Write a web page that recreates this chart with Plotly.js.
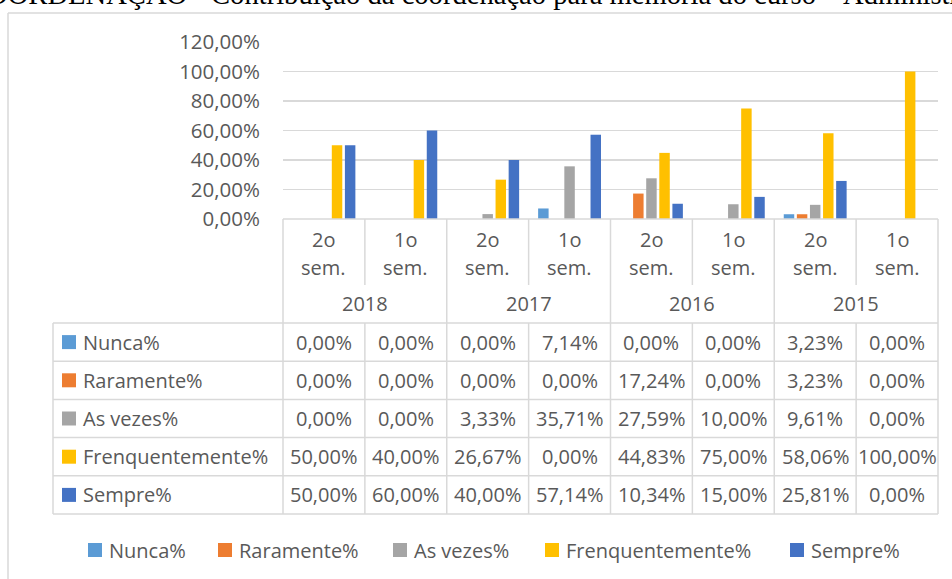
<!DOCTYPE html>
<html>
<head>
<meta charset="utf-8">
<script src="https://cdn.plot.ly/plotly-3.0.1.min.js"></script>
<style>html,body{margin:0;padding:0;background:#fff;overflow:hidden}#chart{width:952px;height:579px}</style>
</head>
<body>
<div id="chart"></div>
<script>
// ---- data ----
const titleText = 'COORDENAÇÃO - Contribuição da coordenação para memória do curso – Administração';
const years = ['2018', '2017', '2016', '2015'];
const semesters = ['2o sem.', '1o sem.', '2o sem.', '1o sem.', '2o sem.', '1o sem.', '2o sem.', '1o sem.'];
const seriesNames = ['Nunca%', 'Raramente%', 'As vezes%', 'Frenquentemente%', 'Sempre%'];
const nunca = [0.00, 0.00, 0.00, 7.14, 0.00, 0.00, 3.23, 0.00];
const raramente = [0.00, 0.00, 0.00, 0.00, 17.24, 0.00, 3.23, 0.00];
const asVezes = [0.00, 0.00, 3.33, 35.71, 27.59, 10.00, 9.61, 0.00];
const frequentemente = [50.00, 40.00, 26.67, 0.00, 44.83, 75.00, 58.06, 100.00];
const sempre = [50.00, 60.00, 40.00, 57.14, 10.34, 15.00, 25.81, 0.00];
const colors = ['#5B9BD5', '#ED7D31', '#A5A5A5', '#FFC000', '#4472C4'];

// ---- layout helpers (pixel geometry of the page) ----
const W = 952, H = 579;
const L = 283, R = 938, T = 42, B = 219;
const fx = px => (px - L) / (R - L);
const fy = py => (B - py) / (B - T);
const grid = '#d9d9d9';
const txt = '#595959';
const FONT = 'Open Sans, sans-serif';
const FS = 20;

const series = [nunca, raramente, asVezes, frequentemente, sempre];
const cats = semesters.map((s, i) => years[Math.floor(i / 2)] + ' ' + s);

const traces = series.map((vals, k) => ({
  type: 'bar',
  name: seriesNames[k],
  x: cats,
  y: vals,
  marker: {color: colors[k], line: {width: 0}},
  showlegend: false,
  hoverinfo: 'skip'
}));

const shapes = [];
const annotations = [];
function hline(x0, x1, py, w) {
  shapes.push({type: 'line', xref: 'paper', yref: 'paper', x0: x0, x1: x1, y0: fy(py), y1: fy(py),
    line: {color: grid, width: w || 1.5}});
}
function vline(xp, py0, py1, w) {
  shapes.push({type: 'line', xref: 'paper', yref: 'paper', x0: xp, x1: xp, y0: fy(py0), y1: fy(py1),
    line: {color: grid, width: w || 1.5}});
}
function label(text, x, xref, py, xanchor, size) {
  annotations.push({text: text, x: x, xref: xref, y: fy(py), yref: 'paper', xanchor: xanchor || 'center',
    yanchor: 'middle', showarrow: false, font: {family: FONT, size: size || FS, color: txt}});
}

// chart outer border
vline(fx(8), 13, H + 5);
hline(fx(8), fx(W + 5), 13);

// category header
const nCat = cats.length;
const headTop = B, semBottom = 285, headBottom = 323;
hline(0, 1, headTop);
for (let k = 0; k <= nCat; k++) {
  const xp = k / nCat;
  if (k % 2 === 0) vline(xp, headTop, headBottom);
  else vline(xp, headTop, semBottom);
}
cats.forEach((c, i) => {
  const parts = semesters[i].split(' ');
  label(parts[0], c, 'x', 239);
  label(parts[1], c, 'x', 267);
});
years.forEach((y, j) => {
  label(y, (2 * j + 1) / nCat, 'paper', 303);
});

// data table
const tLeft = fx(53), rowH = 38.2;
const tTop = headBottom;
for (let r = 0; r <= series.length; r++) hline(tLeft, 1, tTop + r * rowH);
const tBottom = tTop + series.length * rowH;
vline(tLeft, tTop, tBottom);
for (let k = 0; k <= nCat; k++) vline(k / nCat, tTop, tBottom);
const fmt = v => v.toFixed(2).replace('.', ',') + '%';
series.forEach((vals, r) => {
  const cy = tTop + rowH * (r + 0.5);
  shapes.push({type: 'rect', xref: 'paper', yref: 'paper', x0: fx(62), x1: fx(76), y0: fy(cy - 7), y1: fy(cy + 7),
    fillcolor: colors[r], line: {width: 0}});
  label(seriesNames[r], fx(81), 'paper', cy, 'left');
  vals.forEach((v, i) => label(fmt(v), cats[i], 'x', cy));
});

// legend
const legX = [88, 218, 393, 545, 790];
const legY = 550;
seriesNames.forEach((n, k) => {
  shapes.push({type: 'rect', xref: 'paper', yref: 'paper', x0: fx(legX[k]), x1: fx(legX[k] + 14),
    y0: fy(legY - 7), y1: fy(legY + 7), fillcolor: colors[k], line: {width: 0}});
  label(n, fx(legX[k] + 19), 'paper', legY, 'left');
});

// title (cut at top of the picture as in the reference)
annotations.push({text: titleText, x: fx(-34), xref: 'paper', y: fy(12.5), yref: 'paper',
  xanchor: 'left', yanchor: 'bottom', showarrow: false,
  font: {family: 'Liberation Serif, Times New Roman, serif', size: 28.6, color: '#000'}});

const layout = {
  width: W, height: H,
  margin: {l: L, r: W - R, t: T, b: H - B, pad: 0},
  paper_bgcolor: '#fff', plot_bgcolor: '#fff',
  separators: ',.',
  barmode: 'group', bargap: 0.2, bargroupgap: 0.2,
  showlegend: false,
  font: {family: FONT, size: FS, color: txt},
  xaxis: {type: 'category', range: [-0.5, nCat - 0.5], showticklabels: false, showgrid: false,
    zeroline: false, showline: false, ticks: '', fixedrange: true},
  yaxis: {range: [0, 120], dtick: 20, tickformat: '.2f', ticksuffix: '%', showgrid: true,
    gridcolor: grid, gridwidth: 1.5, zeroline: false, showline: false, ticks: '',
    ticklabelstandoff: 22, tickfont: {family: FONT, size: 20.5, color: txt}, fixedrange: true},
  shapes: shapes,
  annotations: annotations
};

Plotly.newPlot('chart', traces, layout, {displayModeBar: false, staticPlot: true});
</script>
</body>
</html>
